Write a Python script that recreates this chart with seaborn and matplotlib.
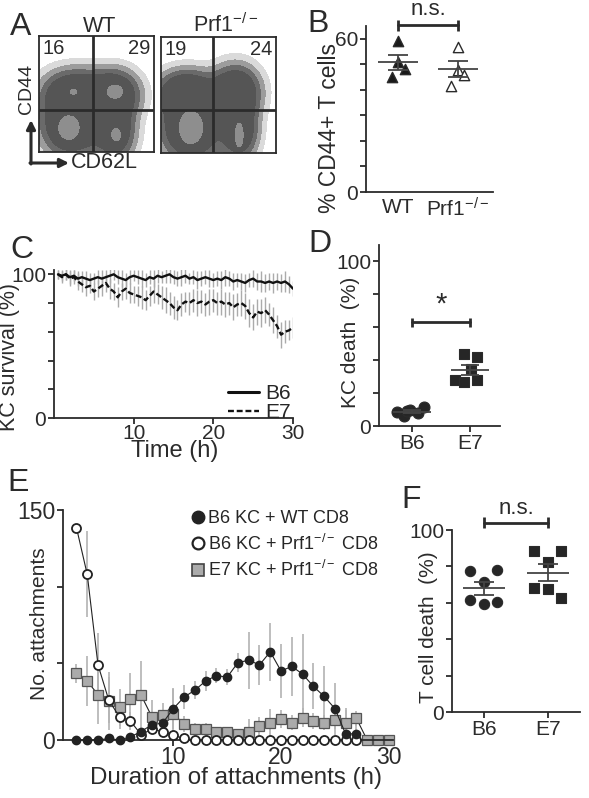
import numpy as np
import pandas as pd
import matplotlib
matplotlib.use("Agg")
import matplotlib.pyplot as plt
import seaborn as sns
from matplotlib.lines import Line2D

# --- DATA ---
# A: flow plots; populations as (x, y, spread x, spread y, weight), in fractions of the plot box
wt_cloud = [(0.28, 0.22, 0.16, 0.16, 1.0), (0.30, 0.50, 0.17, 0.13, 0.9),
            (0.65, 0.50, 0.14, 0.13, 0.9), (0.66, 0.18, 0.11, 0.16, 0.8)]
wt_core = [(0.26, 0.21, 0.07, 0.08, 1.0), (0.66, 0.52, 0.07, 0.06, 0.7),
           (0.67, 0.15, 0.05, 0.07, 0.6), (0.30, 0.52, 0.06, 0.05, 0.5)]
prf_cloud = [(0.26, 0.22, 0.16, 0.18, 1.0), (0.22, 0.52, 0.16, 0.12, 0.85),
             (0.65, 0.53, 0.13, 0.14, 0.9), (0.68, 0.20, 0.10, 0.16, 0.8)]
prf_core = [(0.26, 0.22, 0.08, 0.11, 1.0), (0.68, 0.155, 0.03, 0.09, 0.85),
            (0.66, 0.55, 0.05, 0.05, 0.4)]
wt_quad = ["16", "29"]
prf_quad = ["19", "24"]
wt_gate = (0.47, 0.36)
prf_gate = (0.45, 0.37)

# B: % CD44+ T cells
b_groups = ["WT", "Prf1$^{-/-}$"]
b_wt = [59, 51, 48, 45]
b_prf = [56.7, 47.7, 45.9, 41.7]

# C: KC survival over time
c_time = np.arange(1, 61) * 0.5
c_b6 = [100, 99, 100, 98, 99, 97, 98, 97, 96, 97,
        98, 97, 98, 99, 100, 98, 97, 96, 98, 99,
        98, 97, 96, 98, 97, 99, 98, 99, 100, 98,
        97, 98, 99, 97, 98, 96, 97, 98, 97, 96,
        97, 96, 98, 97, 95, 96, 95, 94, 96, 97,
        95, 95, 94, 95, 94, 95, 94, 95, 93, 90]
c_e7 = [100, 98, 100, 97, 98, 95, 93, 91, 92, 88,
        90, 92, 94, 90, 88, 84, 88, 90, 87, 86,
        85, 84, 82, 85, 88, 86, 84, 82, 80, 77,
        75, 79, 81, 80, 82, 80, 81, 79, 81, 82,
        80, 81, 79, 80, 77, 79, 80, 78, 73, 70,
        74, 73, 75, 72, 68, 64, 58, 60, 61, 63]
c_b6_err = [3, 4, 4, 5, 4, 5, 4, 5, 5, 4,
            5, 6, 5, 5, 4, 5, 6, 5, 5, 4,
            5, 6, 5, 5, 6, 5, 4, 5, 6, 5,
            5, 6, 5, 4, 5, 6, 5, 5, 6, 5,
            5, 6, 6, 5, 6, 5, 6, 6, 5, 6,
            6, 7, 6, 6, 7, 6, 6, 7, 6, 5]
c_e7_err = [3, 4, 4, 5, 5, 6, 5, 6, 5, 6,
            6, 7, 6, 7, 6, 7, 6, 7, 7, 6,
            7, 8, 7, 7, 8, 7, 8, 9, 8, 8,
            7, 8, 7, 8, 8, 9, 8, 8, 9, 8,
            8, 9, 9, 8, 9, 8, 9, 9, 10, 9,
            9, 10, 9, 8, 9, 8, 9, 8, 7, 7]

# D: KC death
d_b6 = [8.5, 6, 9.5, 8, 11.5, 9]
d_e7 = [43.5, 42, 34.5, 28, 27, 28]

# E: attachment durations
e_hours = np.arange(1, 31)
e_wt = [0, 0, 0, 1, 0, 2, 5.5, 10, 11, 20.5, 28, 32.5, 38.5, 42, 41,
        50.5, 52, 49, 57.5, 45, 48, 43, 35, 28.5, 20.5, 4, 4]
e_wt_err = [0, 0, 0, 0, 0, 1, 2, 4, 5, 13, 8, 6, 6.5, 5, 5,
            6, 18.5, 13, 19, 17.5, 19, 26, 15, 19.5, 17, 17, 8]
e_b6prf = [138.5, 108, 49, 26, 15, 12.5, 3.5, 7, 5.5, 3, 1, 0, 0, 0, 0,
           0, 0, 0, 0, 0, 0, 0, 0, 0, 0, 0, 0]
e_b6prf_err = [0, 28, 20.5, 15, 8, 6, 2, 3, 2, 1, 0.5, 0, 0, 0, 0,
               0, 0, 0, 0, 0, 0, 0, 0, 0, 0, 0, 0]
e_e7prf = [43.5, 38.5, 29.5, 25.6, 21.3, 26.5, 29.3, 15.2, 16.3, 17, 10.4, 7, 7, 5, 5.4,
           4, 5.4, 9.3, 11.3, 13.7, 11.3, 14.6, 12.4, 11.3, 13, 11.3, 14.1, 0, 0, 0]
e_e7prf_err = [6, 16.5, 19, 19, 12, 17, 22, 11, 8, 17, 5, 4, 4, 3, 3,
               3, 8, 6, 8.7, 6, 5, 6, 5, 5, 6, 8, 5, 0, 0, 0]
e_labels = ["B6 KC + WT CD8", "B6 KC + Prf1$^{-/-}$ CD8", "E7 KC + Prf1$^{-/-}$ CD8"]

# F: T cell death
f_b6 = [77.5, 78, 71.7, 61.6, 59.2, 60.3]
f_e7 = [88.7, 88.7, 82.6, 68.4, 67.5, 62.9]

# --- SETUP ---
W, H = 589, 798
sns.set_style("ticks")
plt.rcParams['font.family'] = ['Liberation Sans', 'DejaVu Sans']
plt.rcParams['mathtext.fontset'] = 'custom'
plt.rcParams['mathtext.rm'] = 'Liberation Sans'
plt.rcParams['mathtext.it'] = 'Liberation Sans'
INK = '#2b2b2b'
TICK = 15

fig = plt.figure(figsize=(W / 100, H / 100), dpi=100)


def px_axes(l, t, r, b):
    return fig.add_axes([l / W, 1 - b / H, (r - l) / W, (b - t) / H])


def style(ax, size=TICK):
    sns.despine(ax=ax)
    for s in ["left", "bottom"]:
        ax.spines[s].set_color(INK)
        ax.spines[s].set_linewidth(1.3)
    ax.tick_params(direction="out", length=4, width=1.3, color=INK,
                   labelsize=size, labelcolor=INK, pad=1.5)


def dot_panel(ax, groups, offsets, markers, faces, sizes, lw_edge=0.8):
    for i, (v, d) in enumerate(zip(groups, offsets)):
        v = np.asarray(v)
        sns.scatterplot(x=i + np.asarray(d), y=v, marker=markers[i], color=faces[i],
                        edgecolor=INK, linewidth=lw_edge, s=sizes[i], ax=ax,
                        zorder=3, clip_on=False)
        m = v.mean()
        sem = v.std(ddof=1) / np.sqrt(len(v))
        ax.hlines(m, i - 0.33, i + 0.33, color='#444', lw=1.3, zorder=4)
        ax.hlines([m - sem, m + sem], i - 0.16, i + 0.16, color='#444', lw=1.3, zorder=4)
        ax.vlines(i, m - sem, m + sem, color='#444', lw=1.3, zorder=4)


def bracket(ax, y, cap, text, ty, size=16):
    ax.plot([0, 1], [y, y], color=INK, lw=2, clip_on=False)
    ax.vlines([0, 1], y - cap, y + cap, color=INK, lw=2, clip_on=False)
    ax.text(0.5, ty, text, ha='center', va='bottom', fontsize=size, color=INK)


# --- A: flow plots ---
g = np.linspace(0, 1, 300)
GX, GY = np.meshgrid(g, g)


def density(pops):
    z = np.zeros_like(GX)
    for a, b, c, d, e in pops:
        z += e * np.exp(-((GX - a) ** 2 / (2 * c ** 2) + (GY - b) ** 2 / (2 * d ** 2)))
    return z / z.max()


for box, cloud, core, gate, quad in [((39, 36, 154, 152), wt_cloud, wt_core, wt_gate, wt_quad),
                                     ((161, 37, 276, 153), prf_cloud, prf_core, prf_gate, prf_quad)]:
    ax = px_axes(*box)
    ax.contourf(g, g, density(cloud), levels=[0.05, 0.12, 0.22, 0.35, 1.01],
                colors=['#dadada', '#9c9c9c', '#6a6a6a', '#555555'])
    ax.contourf(g, g, density(core), levels=[0.45, 1.01], colors=['#8e8e8e'])
    ax.axvline(gate[0], color=INK, lw=2)
    ax.axhline(gate[1], color=INK, lw=2)
    ax.set_xlim(0, 1)
    ax.set_ylim(0, 1)
    ax.set_xticks([])
    ax.set_yticks([])
    for s in ax.spines.values():
        s.set_color(INK)
        s.set_linewidth(1.3)
    ax.text(0.03, 0.89, quad[0], fontsize=14.5, color=INK, va='center', ha='left', transform=ax.transAxes)
    ax.text(0.97, 0.89, quad[1], fontsize=14.5, color=INK, va='center', ha='right', transform=ax.transAxes)

# --- B ---
ax = px_axes(366, 26, 493, 192)
style(ax)
dot_panel(ax, [b_wt, b_prf], [[0, 0, 0.12, -0.1], [0, 0, 0.1, -0.11]],
          ['^', '^'], ['#1a1a1a', 'white'], [55, 55], 1.0)
ax.set_xlim(-0.53, 1.58)
ax.set_ylim(0, 65)
ax.set_yticks(np.arange(0, 61, 10), ['0', '', '', '', '', '', '60'])
ax.set_xticks([0, 1], b_groups)
ax.tick_params(axis='x', length=0, pad=4)
bracket(ax, 65.3, 2.2, 'n.s.', 67.3)

# --- C ---
ax = px_axes(54, 270, 293, 418)
style(ax)
ax.errorbar(c_time, c_b6, yerr=c_b6_err, fmt='none', ecolor='#ababab', elinewidth=1, zorder=1)
ax.errorbar(c_time, c_e7, yerr=c_e7_err, fmt='none', ecolor='#ababab', elinewidth=1, zorder=1)
c_df = pd.DataFrame({'t': np.concatenate([c_time, c_time]),
                     'v': c_b6 + c_e7,
                     'g': ['B6'] * len(c_b6) + ['E7'] * len(c_e7)})
sns.lineplot(data=c_df, x='t', y='v', style='g', color='#111',
             dashes={'B6': '', 'E7': (2.5, 1.2)}, lw=1.7, ax=ax, legend=False, zorder=3)
ax.set_xlim(0, 30)
ax.set_ylim(0, 103)
ax.set_xticks([10, 20, 30])
ax.set_yticks(np.arange(0, 101, 20), ['0', '', '', '', '', '100'])
ax.tick_params(axis='x', pad=0)
ax.set_xlabel('')
ax.set_ylabel('')
ax.legend([Line2D([], [], color='#111', lw=2.2), Line2D([], [], color='#111', lw=1.7, ls=(0, (2.5, 1.2)))],
          ['B6', 'E7'], loc='lower right', bbox_to_anchor=(1.0, -0.04), frameon=False, fontsize=15,
          handlelength=1.5, handletextpad=0.3, labelspacing=0.0, borderaxespad=0.0, borderpad=0.1)

# --- D ---
ax = px_axes(379, 245, 500, 426)
style(ax)
dot_panel(ax, [d_b6, d_e7], [[-0.26, -0.14, -0.03, 0.1, 0.21, -0.09], [-0.11, 0.13, 0.02, -0.25, -0.11, 0.13]],
          ['o', 's'], ['#262626', '#262626'], [62, 55])
ax.set_xlim(-0.57, 1.52)
ax.set_ylim(0, 110)
ax.set_yticks(np.arange(0, 101, 20), ['0', '', '', '', '', '100'])
ax.set_xticks([0, 1], ['B6', 'E7'])
bracket(ax, 63, 2.8, '*', 65.5, size=21)

# --- E ---
ax = px_axes(63, 510, 393, 740)
style(ax, 16.5)
n_wt, n_b6 = len(e_wt), len(e_b6prf)
ax.errorbar(e_hours[:n_wt], e_wt, yerr=e_wt_err, fmt='none', ecolor='#b3b3b3', elinewidth=1.2, zorder=1)
ax.errorbar(e_hours[:n_b6], e_b6prf, yerr=e_b6prf_err, fmt='none', ecolor='#b3b3b3', elinewidth=1.2, zorder=1)
ax.errorbar(e_hours, e_e7prf, yerr=e_e7prf_err, fmt='none', ecolor='#b3b3b3', elinewidth=1.2, zorder=1)
ax.plot(e_hours[:n_wt], e_wt, '-o', color='#222', lw=0.8, ms=6, mfc='#222', mec='#222', zorder=4, clip_on=False)
ax.plot(e_hours[:n_b6], e_b6prf, '-o', color='#222', lw=0.8, ms=6.5, mfc='white', mec='#222', mew=1.3, zorder=3, clip_on=False)
ax.plot(e_hours, e_e7prf, '-s', color='#222', lw=0.8, ms=6.5, mfc='#ababab', mec='#555', mew=0.9, zorder=2, clip_on=False)
ax.set_xlim(-0.25, 30.4)
ax.set_ylim(0, 150)
ax.set_xticks([10, 20, 30])
ax.set_yticks([0, 50, 100, 150], ['0', '', '', '150'])
ax.tick_params(axis='x', pad=0)
hs = [Line2D([], [], ls='', marker='o', ms=9, mfc='#222', mec='#222'),
      Line2D([], [], ls='', marker='o', ms=8.5, mfc='white', mec='#222', mew=1.6),
      Line2D([], [], ls='', marker='s', ms=8, mfc='#ababab', mec='#444', mew=1.2)]
ax.legend(hs, e_labels, loc='upper left', bbox_to_anchor=(0.365, 1.03), frameon=False, fontsize=13,
          handlelength=0.8, handletextpad=0.15, labelspacing=0.35, borderaxespad=0)

# --- F ---
ax = px_axes(452, 530, 580, 712)
style(ax)
dot_panel(ax, [f_b6, f_e7], [[-0.22, 0.21, 0, -0.22, 0, 0.21], [-0.22, 0.21, 0, -0.22, 0, 0.21]],
          ['o', 's'], ['#262626', '#262626'], [55, 48])
ax.set_xlim(-0.5, 1.5)
ax.set_ylim(0, 100)
ax.set_yticks(np.arange(0, 101, 20), ['0', '', '', '', '', '100'])
ax.set_xticks([0, 1], ['B6', 'E7'])
bracket(ax, 104, 3, 'n.s.', 106)

# --- overlay: letters, labels, arrows ---
ov = fig.add_axes([0, 0, 1, 1])
ov.set_xlim(0, W)
ov.set_ylim(H, 0)
ov.axis('off')
for t, x, y in [('A', 21, 27), ('B', 318, 24), ('C', 22, 250), ('D', 320, 244), ('E', 18, 483), ('F', 411, 500)]:
    ov.text(x, y, t, fontsize=23, ha='center', va='center', color=INK)
kw = dict(color=INK, ha='center', va='center')
ov.text(100, 26, 'WT', fontsize=15.5, **kw)
ov.text(226, 25, 'Prf1$^{-/-}$', fontsize=15.5, **kw)
ov.text(27, 89, 'CD44', rotation=90, fontsize=14, **kw)
ov.text(104, 162, 'CD62L', fontsize=15.5, **kw)
ov.annotate('', xy=(31, 120), xytext=(31, 164),
            arrowprops=dict(arrowstyle='-|>', color=INK, lw=2.2, mutation_scale=13, shrinkA=0, shrinkB=0))
ov.annotate('', xy=(69, 163), xytext=(30, 163),
            arrowprops=dict(arrowstyle='-|>', color=INK, lw=2.2, mutation_scale=13, shrinkA=0, shrinkB=0))
ov.text(329, 128, '% CD44+ T cells', rotation=90, fontsize=16.5, **kw)
ov.text(10, 357, 'KC survival (%)', rotation=90, fontsize=15.5, **kw)
ov.text(175, 451, 'Time (h)', fontsize=17, **kw)
ov.text(350, 342, 'KC death  (%)', rotation=90, fontsize=15, **kw)
ov.text(40, 624, 'No. attachments', rotation=90, fontsize=15, **kw)
ov.text(236, 778, 'Duration of attachments (h)', fontsize=17.4, **kw)
ov.text(428, 627, 'T cell death  (%)', rotation=90, fontsize=15, **kw)

fig.savefig('out.png', dpi=100)
